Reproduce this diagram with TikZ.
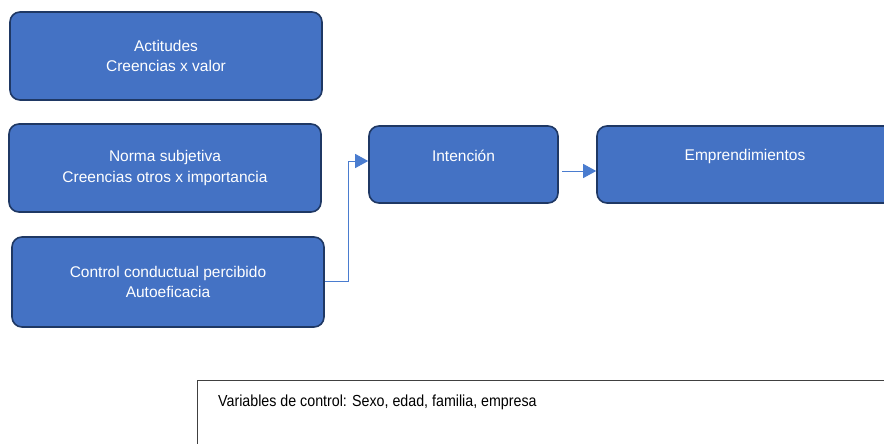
\documentclass[tikz,border=0pt]{standalone}
\usepackage{graphicx}
\usepackage{fontspec}
\setmainfont{Liberation Sans}
\usetikzlibrary{arrows.meta}
\definecolor{boxfill}{HTML}{4472C4}
\definecolor{boxedge}{HTML}{1F3864}
\definecolor{linkc}{HTML}{4A7CCF}
\begin{document}
\begin{tikzpicture}[x=1pt,y=-1pt,
  bluebox/.style={draw=boxedge,line width=1.6pt,fill=boxfill,rounded corners=10pt,
    text=white,font=\fontsize{15.5}{20.5}\selectfont,align=center,inner sep=0pt},
  boxtext/.style={font=\fontsize{15.5}{20.5}\selectfont,text=white},
  link/.style={draw=linkc,line width=1pt,-{Triangle[length=13pt,width=14pt]}}]
\useasboundingbox (0,0) rectangle (884,444);
\node[bluebox,minimum width=312pt,minimum height=88pt] (act) at (166,56) {Actitudes\\Creencias x valor};
\node[bluebox,minimum width=312pt,minimum height=88pt] (norma) at (165,168) {Norma subjetiva\\Creencias otros x importancia};
\node[bluebox,minimum width=312pt,minimum height=90pt] (ctrl) at (168,282) {Control conductual percibido\\Autoeficacia};
\node[bluebox,minimum width=189pt,minimum height=77pt] (int) at (463.5,164.5) {};
\node[boxtext] (intt) at (463.5,156) {Intención};
\node[bluebox,minimum width=300pt,minimum height=77pt] (emp) at (747,164.5) {};
\node[boxtext] (empt) at (745,156) {Emprendimientos};
\node[draw=black!75,line width=0.8pt,minimum width=700pt,minimum height=80pt,inner sep=0pt] (var) at (547,420) {};
\node[anchor=west,inner sep=0pt,font=\fontsize{16}{19}\selectfont] (vart) at (218,402) {\scalebox{0.89}[1]{Variables de control: Sexo, edad, familia, empresa}};
\coordinate (c1) at (348,281);
\coordinate (c2) at (348,161);
\coordinate (e1) at (562,171);
\draw[link] (ctrl.east |- c1) -- (c1) -- (c2) -- (int.west |- c2);
\draw[link] (e1) -- (emp.west |- e1);
\end{tikzpicture}
\end{document}
